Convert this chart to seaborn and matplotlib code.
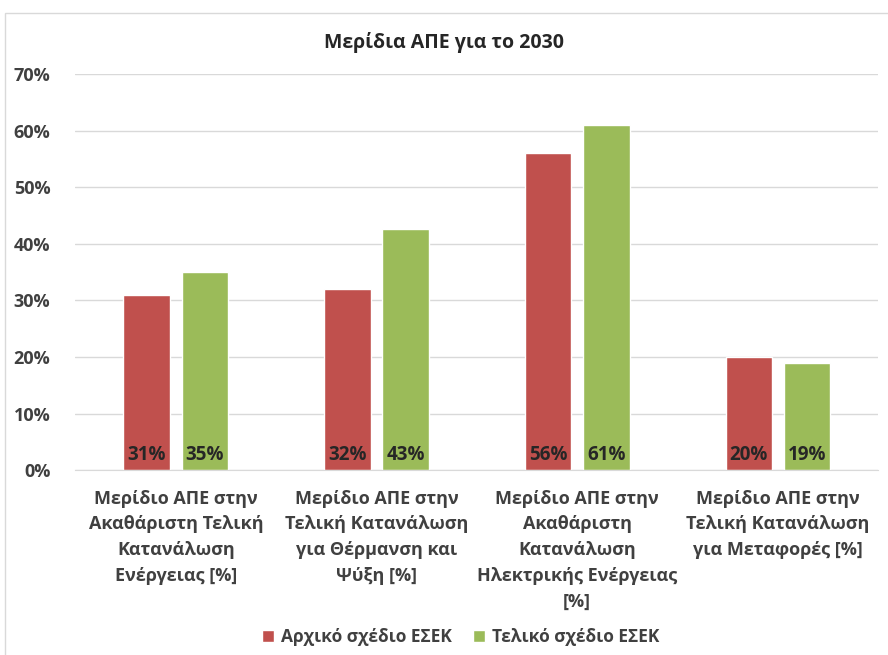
import numpy as np
import pandas as pd
import matplotlib
matplotlib.use("Agg")
import matplotlib.pyplot as plt
import seaborn as sns

categories = [
    "Μερίδιο ΑΠΕ στην\nΑκαθάριστη Τελική\nΚατανάλωση\nΕνέργειας [%]",
    "Μερίδιο ΑΠΕ στην\nΤελική Κατανάλωση\nγια Θέρμανση και\nΨύξη [%]",
    "Μερίδιο ΑΠΕ στην\nΑκαθάριστη\nΚατανάλωση\nΗλεκτρικής Ενέργειας\n[%]",
    "Μερίδιο ΑΠΕ στην\nΤελική Κατανάλωση\nγια Μεταφορές [%]",
]
series = ["Αρχικό σχέδιο ΕΣΕΚ", "Τελικό σχέδιο ΕΣΕΚ"]
initial_plan = [31, 32, 56, 20]
final_plan = [35, 42.6, 61, 19]
yticks = [0, 10, 20, 30, 40, 50, 60, 70]

df = pd.DataFrame({
    "cat": categories * 2,
    "plan": [series[0]] * 4 + [series[1]] * 4,
    "value": initial_plan + final_plan,
})

sns.set_style("white")
plt.rcParams["font.family"] = ["Open Sans", "DejaVu Sans"]
plt.rcParams["font.weight"] = "bold"
text_col = "#404040"

fig = plt.figure(figsize=(8.88, 6.55), dpi=100)
ax = fig.add_axes([0.085, 0.282, 0.904, 0.605])

sns.barplot(data=df, x="cat", y="value", hue="plan",
            palette=["#C0504D", "#9BBB59"], width=0.58, gap=0.2,
            saturation=1, ax=ax, legend=True)

# value labels sit at the bottom of each bar
for cont in ax.containers:
    for rect, v in zip(cont.patches, cont.datavalues):
        ax.text(rect.get_x() + rect.get_width() / 2, 0.9, f"{v:.0f}%",
                ha="center", va="bottom", fontsize=13.5,
                fontweight="bold", color="#262626")

ax.set_ylim(0, 70)
ax.set_yticks(yticks)
ax.set_yticklabels([f"{v}%" for v in yticks], fontsize=13,
                   fontweight="bold", color=text_col)
ax.yaxis.grid(True, color="#D9D9D9", linewidth=1)
ax.set_axisbelow(True)
for s in ["top", "right", "left"]:
    ax.spines[s].set_visible(False)
ax.spines["bottom"].set_color("#D9D9D9")
ax.tick_params(axis="x", length=0, pad=14)
ax.tick_params(axis="y", length=0, pad=18)
for lbl in ax.get_xticklabels():
    lbl.set_fontsize(13)
    lbl.set_fontweight("bold")
    lbl.set_color(text_col)
    lbl.set_linespacing(1.55)
    lbl.set_va("top")
ax.set_xlabel("")
ax.set_ylabel("")

ax.legend(loc="center", bbox_to_anchor=(0.48, -0.42), ncol=2, frameon=False,
          handlelength=0.7, handleheight=0.7,
          handletextpad=0.4, columnspacing=1.2,
          labelcolor=text_col, prop={"weight": "bold", "size": 12.5})

fig.text(0.5, 0.935, "Μερίδια ΑΠΕ για το 2030", ha="center", va="center",
         fontsize=14, fontweight="bold", color="#262626")

fig.patches.append(plt.Rectangle((0.006, -0.01), 1.2, 0.99,
                                 transform=fig.transFigure, fill=False,
                                 edgecolor="#D9D9D9", linewidth=1))

fig.savefig("out.png", dpi=100, facecolor="white")
